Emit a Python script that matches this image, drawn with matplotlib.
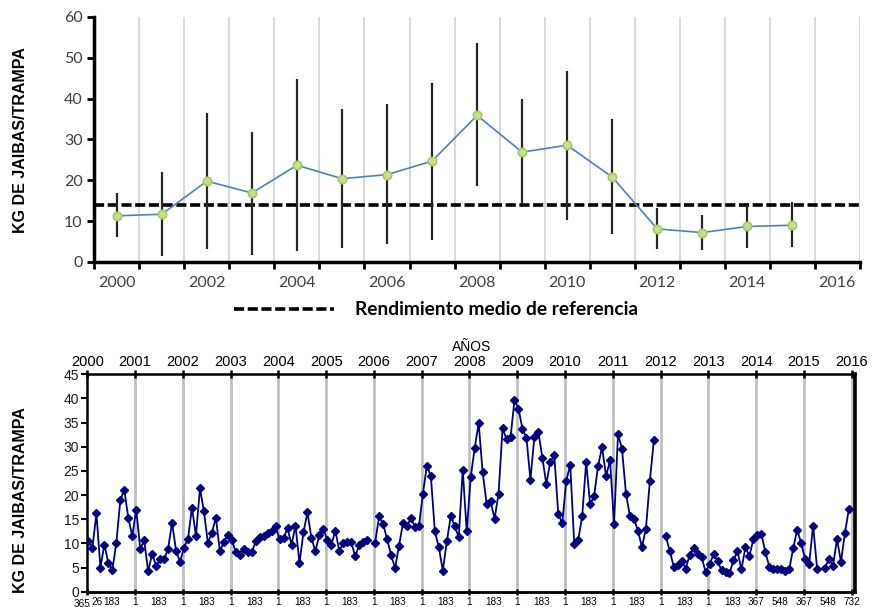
import numpy as np
import matplotlib
matplotlib.use("Agg")
import matplotlib.pyplot as plt
from matplotlib.ticker import FixedLocator, FixedFormatter, NullFormatter

nan = np.nan

# ---- upper panel: yearly mean yield with min/max bars ----
years = list(range(2000, 2016))
mean_kg = [11.3, 11.7, 19.8, 16.9, 23.7, 20.4, 21.4, 24.7, 35.9, 26.9, 28.6, 20.8, 8.1, 7.2, 8.7, 9.0]
upper_kg = [16.8, 22.1, 36.5, 31.9, 44.9, 37.4, 38.7, 43.9, 53.6, 39.8, 46.8, 35.1, 13.1, 11.4, 13.9, 14.7]
lower_kg = [6.1, 1.5, 3.2, 1.8, 2.7, 3.4, 4.5, 5.5, 18.5, 14.3, 10.4, 6.8, 3.3, 3.0, 3.5, 3.7]
ref_kg = 14.0
cat_years = list(range(2000, 2017))

# ---- lower panel: monthly yield, Jan 2000 .. Dec 2015 ----
monthly_kg = [
    10.4, 9.1, 16.2, 5.0, 9.75, 5.9, 4.5, 10.1, 18.9, 21.1, 15.3, 11.5,       # 2000
    17.0, 8.9, 10.6, 4.2, 7.9, 5.3, 6.7, 6.7, 8.9, 14.25, 8.5, 6.2,           # 2001
    9.1, 11.0, 17.4, 11.55, 21.4, 16.6, 10.1, 12.2, 15.35, 8.4, 10.3, 11.8,   # 2002
    10.7, 8.2, 7.6, 8.85, 8.2, 8.15, 10.4, 11.4, 11.45, 12.05, 12.65, 13.5,   # 2003
    10.85, 11.2, 13.1, 9.75, 13.7, 5.9, 12.3, 16.4, 11.1, 8.4, 11.8, 12.9,    # 2004
    10.7, 9.75, 12.6, 8.5, 10.0, 10.2, 10.2, 7.3, 9.75, 10.2, 10.6, nan,      # 2005
    10.15, 15.6, 14.0, 10.9, 7.6, 4.9, 9.5, 14.25, 13.55, 15.3, 13.4, 13.55,  # 2006
    20.3, 26.1, 23.9, 12.5, 9.2, 4.35, 10.4, 15.7, 13.5, 11.3, 25.25, 12.5,   # 2007
    23.7, 29.7, 34.9, 24.75, 18.2, 18.7, 15.1, 20.3, 33.8, 31.6, 31.95, 39.6, # 2008
    37.9, 33.7, 31.9, 23.2, 32.1, 33.05, 27.7, 22.3, 26.9, 28.2, 16.0, 14.2,  # 2009
    22.9, 26.3, 9.9, 10.7, 15.6, 26.8, 18.05, 19.8, 26.1, 29.9, 23.9, 27.2,   # 2010
    14.0, 32.7, 29.5, 20.3, 15.6, 15.1, 12.65, 9.3, 12.9, 23.0, 31.3, nan,    # 2011
    nan, 11.5, 8.4, 5.2, 5.5, 6.3, 4.8, 7.6, 9.0, 7.8, 7.1, 4.1,              # 2012
    5.7, 7.7, 6.4, 4.4, 4.1, 3.8, 6.5, 8.4, 4.6, 9.2, 7.4, 10.85,             # 2013
    11.8, 12.0, 8.2, 5.2, 4.7, 4.6, 4.6, 4.35, 4.6, 9.0, 12.8, 10.1,          # 2014
    6.7, 5.7, 13.7, 4.8, nan, 5.0, 6.8, 5.4, 10.9, 6.2, 12.2, 17.2,           # 2015
]
top_years = list(range(2000, 2017))
day_major_pos = list(range(2000, 2017))
day_major_lab = [""] + ["1"] * 13 + ["367", "367", "732"]
day_minor_pos = [2000.2] + [y + 0.5 for y in range(2000, 2016)]
day_minor_lab = ["26"] + ["183"] * 14 + ["548", "548"]
first_day_lab = "365"

fig = plt.figure(figsize=(8.77, 6.07), dpi=100)

# ================= upper chart =================
ax1 = fig.add_axes([0.1075, 0.5684, 0.873, 0.4036])
pos = np.arange(len(years))
for b in np.arange(0.5, len(cat_years), 1.0):
    ax1.axvline(b, color="#d9d9d9", lw=1.5, zorder=0)
ax1.axhline(ref_kg, color="black", lw=2.6, dashes=(2.8, 1.0), zorder=2,
            label="Rendimiento medio de referencia")
err = [np.array(mean_kg) - np.array(lower_kg), np.array(upper_kg) - np.array(mean_kg)]
ax1.errorbar(pos, mean_kg, yerr=err, fmt="none", ecolor="#262626", elinewidth=1.6,
             capsize=0, zorder=3)
ax1.plot(pos, mean_kg, color="#4f81bd", lw=1.2, marker="o", ms=6,
         mfc="#c5e08c", mec="#a6c964", mew=1.2, zorder=4)
ax1.set_xlim(-0.5, len(cat_years) - 0.5)
ax1.set_ylim(0, 60)
for s in ["top", "right"]:
    ax1.spines[s].set_visible(False)
for s in ["left", "bottom"]:
    ax1.spines[s].set_linewidth(2.5)
ax1.set_yticks(range(0, 61, 10))
ax1.xaxis.set_major_locator(FixedLocator(np.arange(-0.5, len(cat_years), 1.0)))
ax1.xaxis.set_major_formatter(NullFormatter())
ax1.xaxis.set_minor_locator(FixedLocator(pos[::2].tolist() + [16]))
ax1.xaxis.set_minor_formatter(FixedFormatter([str(y) for y in cat_years[::2]]))
ax1.tick_params(axis="x", which="major", direction="out", length=5, width=2)
ax1.tick_params(axis="x", which="minor", length=0, pad=10, labelsize=11.5,
                labelcolor="#404040")
ax1.tick_params(axis="y", direction="out", length=5, width=2, labelsize=11.5,
                labelcolor="#404040")
for lab in ax1.get_xticklabels(minor=True) + ax1.get_yticklabels():
    lab.set_family("Lato")
ax1.legend(loc="center", bbox_to_anchor=(0.446, -0.195), frameon=False,
           handlelength=5.2, handletextpad=1.1,
           prop={"family": "Lato", "weight": "bold", "size": 13.8})
fig.text(0.023, 1 - 140 / 607, "KG DE JAIBAS/TRAMPA", rotation=90, ha="center",
         va="center", family="Liberation Sans", weight="bold", size=11.5)

# ================= lower chart =================
ax2 = fig.add_axes([0.0995, 0.0252, 0.8755, 0.3582])
xm = 2000 + (np.arange(len(monthly_kg)) + 0.3) / 12
for y in range(2001, 2017):
    ax2.axvline(y, color="#c0c0c0", lw=2, zorder=0)
ax2.plot([2000, 2016.07], [0, 0], color="#4040a0", lw=2, zorder=2, clip_on=False)
ax2.plot(xm, monthly_kg, color="#000080", lw=1.3, marker="D", ms=4, zorder=3)
ax2.set_xlim(2000, 2016.07)
ax2.set_ylim(0, 45)
for s in ax2.spines.values():
    s.set_linewidth(1.8)
ax2.spines["right"].set_linewidth(2.6)
ax2.set_yticks(range(0, 46, 5))
ax2.tick_params(axis="y", direction="out", length=4, width=1.5, labelsize=10,
                labelcolor="#1a1a1a", pad=2)
ax2.xaxis.set_major_locator(FixedLocator(day_major_pos))
ax2.xaxis.set_major_formatter(FixedFormatter(day_major_lab))
ax2.xaxis.set_minor_locator(FixedLocator(day_minor_pos))
ax2.xaxis.set_minor_formatter(FixedFormatter(day_minor_lab))
ax2.tick_params(axis="x", which="major", direction="inout", length=5, width=1.8,
                labelsize=7.2, pad=1)
ax2.tick_params(axis="x", which="minor", length=0, labelsize=7.2, pad=3.5)
for lab in (ax2.get_xticklabels() + ax2.get_xticklabels(minor=True)
            + ax2.get_yticklabels()):
    lab.set_family("Liberation Sans")
ax2.annotate(first_day_lab, xy=(2000, 0), xycoords=("data", "axes fraction"),
             xytext=(2.5, -5), textcoords="offset points", ha="right", va="top",
             family="Liberation Sans", size=7.2)

sec = ax2.secondary_xaxis("top")
sec.set_xticks(top_years)
sec.set_xticklabels([str(y) for y in top_years], family="Liberation Sans", size=10.5)
sec.tick_params(direction="inout", length=6, width=1.8, pad=1)
sec.set_xlabel("AÑOS", family="Liberation Sans", size=10, labelpad=3)

fig.text(0.023, 1 - 500 / 607, "KG DE JAIBAS/TRAMPA", rotation=90, ha="center",
         va="center", family="Liberation Sans", weight="bold", size=11.5)

fig.savefig("out.png", dpi=100)
